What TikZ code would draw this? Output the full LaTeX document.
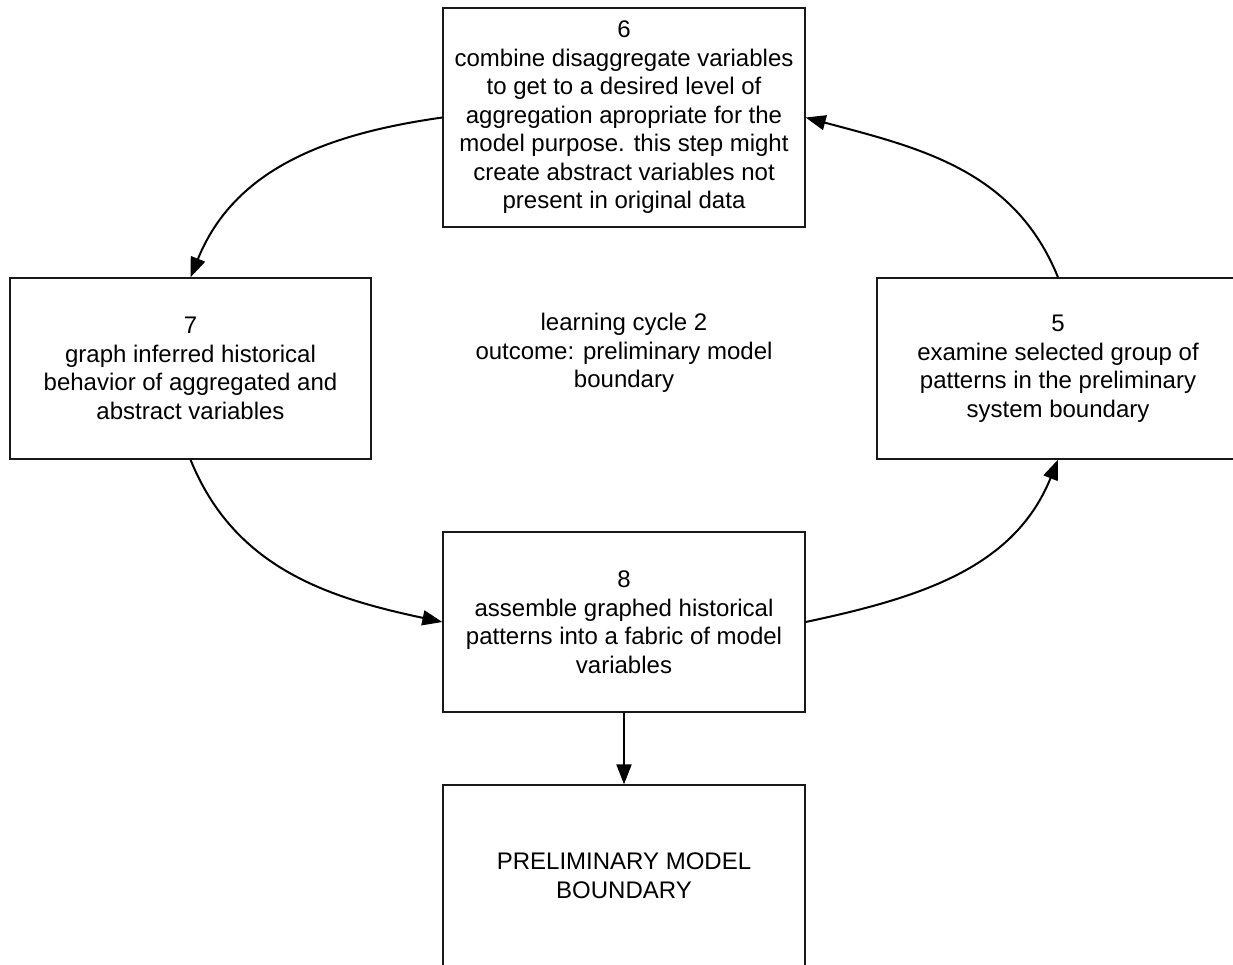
\documentclass[tikz,border=0pt]{standalone}
\usepackage{fontspec}
\setmainfont{Liberation Sans}
\usetikzlibrary{arrows.meta}
\begin{document}
\begin{tikzpicture}[x=1pt,y=1pt,
  stepbox/.style={draw=black!90, line width=1.3pt, rectangle, align=center,
    inner sep=0pt, minimum width=362pt, font=\fontsize{24}{28.5}\selectfont},
  flow/.style={line width=2pt, -{Triangle[length=20pt,width=15pt]}},
  lbl/.style={align=center, font=\fontsize{24}{28.5}\selectfont}]
\useasboundingbox (0,0) rectangle (1233,-964);
\clip (0,0) rectangle (1233,-964);

\node[stepbox, minimum height=219pt] (b6) at (624,-117.5)
  {6\\combine disaggregate variables\\to get to a desired level of\\aggregation apropriate for the\\model purpose. this step might\\create abstract variables not\\present in original data};
\node[stepbox, minimum width=361pt, minimum height=181pt] (b7) at (190.5,-368.5)
  {7\\graph inferred historical\\behavior of aggregated and\\abstract variables};
\node[stepbox, minimum height=181pt] (b5) at (1058,-368.5)
  {5\\examine selected group of\\patterns in the preliminary\\system boundary};
\node[stepbox, minimum height=180pt] (b8) at (624,-622)
  {8\\assemble graphed historical\\patterns into a fabric of model\\variables};
\node[stepbox, minimum height=181pt] (bnd) at (624,-875.5)
  {PRELIMINARY MODEL\\BOUNDARY};
\node[lbl] (cyc) at (624,-353)
  {learning cycle 2\\outcome: preliminary model\\boundary};

% the learning cycle
\draw[flow] (b6.west) to[out=188, in=68] (b7.north);
\draw[flow] (b7.south) to[out=-68, in=168] (b8.west);
\draw[flow] (b8.east) to[out=12, in=-112] (b5.south);
\draw[flow] (b5.north) to[out=112, in=-15] (b6.east);
% result of the cycle
\draw[flow] (b8.south) -- (bnd.north);
\end{tikzpicture}
\end{document}
